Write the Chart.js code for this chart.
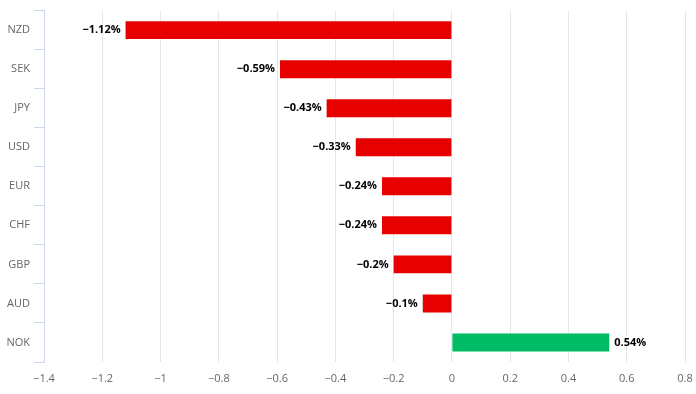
<!DOCTYPE html>
<html>
<head>
<meta charset="utf-8">
<script src="https://cdn.jsdelivr.net/npm/chart.js@4/dist/chart.umd.min.js"></script>
<style>
  body { margin: 0; background: #fff; }
  canvas { display: block; }
</style>
</head>
<body>
<canvas id="fx-chart" width="696" height="394"></canvas>
<script>
// currency moves, in percent
const currencies = ['NZD', 'SEK', 'JPY', 'USD', 'EUR', 'CHF', 'GBP', 'AUD', 'NOK'];
const changes = [-1.12, -0.59, -0.43, -0.33, -0.24, -0.24, -0.2, -0.1, 0.54];
const axisMin = -1.4;
const axisMax = 0.8;
const axisStep = 0.2;

const RED = '#e60000';
const GREEN = '#00bb66';
const FONT = '"Open Sans", sans-serif';

function minus(s) {
    return s.replace('-', '\u2212');
}

// draws the value labels at the end of each bar
const barLabels = {
    id: 'barLabels',
    afterDatasetsDraw(chart) {
        const ctx = chart.ctx;
        const meta = chart.getDatasetMeta(0);
        ctx.save();
        ctx.font = 'bold 11px ' + FONT;
        ctx.textBaseline = 'middle';
        ctx.fillStyle = '#000';
        meta.data.forEach(function (bar, i) {
            const v = changes[i];
            const text = minus(String(v)) + '%';
            if (v < 0) {
                ctx.textAlign = 'right';
                ctx.fillText(text, bar.x - 5, bar.y);
            } else {
                ctx.textAlign = 'left';
                ctx.fillText(text, bar.x + 5, bar.y);
            }
        });
        ctx.restore();
    }
};

new Chart(document.getElementById('fx-chart'), {
    type: 'bar',
    data: {
        labels: currencies,
        datasets: [{
            data: changes,
            backgroundColor: changes.map(v => v < 0 ? RED : GREEN),
            barPercentage: 0.46,
            categoryPercentage: 1.0
        }]
    },
    options: {
        indexAxis: 'y',
        responsive: false,
        animation: false,
        layout: { padding: { top: 8, right: 11, left: 0, bottom: 0 } },
        plugins: {
            legend: { display: false },
            tooltip: { enabled: false }
        },
        scales: {
            x: {
                min: axisMin,
                max: axisMax,
                ticks: {
                    stepSize: axisStep,
                    padding: 10,
                    color: '#666',
                    font: { family: FONT, size: 11 },
                    callback: value => minus(String(Math.round(value * 10) / 10))
                },
                grid: { color: '#e6e6e6', drawTicks: false },
                border: { display: false },
                afterFit: scale => {
                    scale.height = 32;
                    scale.paddingRight = 0;
                    scale.paddingLeft = 0;
                }
            },
            y: {
                ticks: {
                    padding: 4,
                    color: '#666',
                    font: { family: FONT, size: 11 }
                },
                grid: {
                    offset: true,
                    drawOnChartArea: false,
                    color: '#ccd6eb',
                    tickLength: 10
                },
                border: { display: true, color: '#ccd6eb' },
                afterFit: scale => { scale.width = 44; }
            }
        }
    },
    plugins: [barLabels]
});
</script>
</body>
</html>
